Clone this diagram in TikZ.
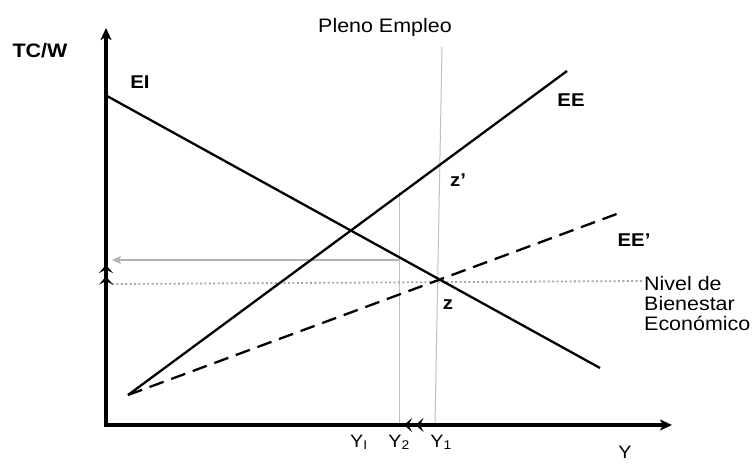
\documentclass[tikz,border=0pt]{standalone}
\usepackage{fontspec}
\setmainfont[FakeStretch=1.1]{Liberation Sans}
\usetikzlibrary{arrows.meta}
\begin{document}
\begin{tikzpicture}[x=1pt,y=-1pt,
  axis/.style={line width=3.6pt,-{Stealth[length=12pt,width=11pt,inset=3pt]}},
  curve/.style={line width=2.3pt,black},
  guide/.style={line width=1pt,black!25},
  chev/.style={line width=1.4pt,-{Stealth[length=8pt,width=14pt,inset=3.5pt,sep=3.5pt]Stealth[length=8pt,width=14pt,inset=3.5pt]}},
  big/.style={font=\fontsize{19.5}{20}\selectfont,inner sep=0pt},
  blab/.style={font=\fontsize{18.5}{19}\selectfont\bfseries,inner sep=0pt},
  ylab/.style={font=\fontsize{18}{19}\selectfont,inner sep=0pt,anchor=base}]
\useasboundingbox (0,0) rectangle (752,463);
% coordinates
\coordinate (ybot) at (106,427);
\coordinate (ytop) at (106,28);
\coordinate (xbeg) at (104,425);
\coordinate (xend) at (672,425);
\coordinate (EIa) at (107,96);
\coordinate (EIb) at (600,368);
\coordinate (S) at (128,395);
\coordinate (EEb) at (567,71);
\coordinate (EEpb) at (622,212);
\coordinate (PEt) at (442,47);
\coordinate (PEb) at (435,425);
\coordinate (Y2t) at (399,192);
\coordinate (Y2b) at (399,425);
\coordinate (Ga) at (399,260);
\coordinate (Gb) at (112,260);
\coordinate (Da) at (112,284);
\coordinate (Db) at (643,281);
\coordinate (ca) at (106,290);
\coordinate (cb) at (106,265);
\coordinate (cc) at (440,425);
\coordinate (cd) at (404,425);
% guides
\draw[guide] (PEt) -- (PEb);
\draw[guide] (Y2t) -- (Y2b);
\draw[line width=1.8pt,black!30,-{Stealth[length=9pt,width=8pt,inset=2pt]}] (Ga) -- (Gb);
\draw[line width=1.8pt,black!35,dash pattern=on 2pt off 2.4pt] (Da) -- (Db);
% curves
\draw[curve] (EIa) -- (EIb);
\draw[curve] (S) -- (EEb);
\draw[curve,dash pattern=on 15pt off 8pt] (S) -- (EEpb);
% axes
\draw[axis] (ybot) -- (ytop);
\draw[axis] (xbeg) -- (xend);
\draw[chev] (ca) -- (cb);
\draw[chev] (cc) -- (cd);
% labels
\node[big,font=\fontsize{19.5}{20}\selectfont\bfseries,anchor=base] (tcw) at (40,57) {TC/W};
\node[big,anchor=base west] (pe) at (318,32) {Pleno Empleo};
\node[blab,anchor=base] (ei) at (140,88) {EI};
\node[blab,anchor=base] (ee) at (571,106) {EE};
\node[blab,anchor=base] (eep) at (634,246) {EE’};
\node[blab,anchor=base] (zp) at (458,186) {z’};
\node[blab,anchor=base] (z) at (448,309) {z};
\node[big,anchor=base west] (n1) at (644,290) {Nivel de};
\node[big,anchor=base west] (n2) at (644,310) {Bienestar};
\node[big,anchor=base west] (n3) at (644,330) {Económico};
\node[ylab] (yi) at (359,447) {Y\textsubscript{I}};
\node[ylab] (y2) at (399,447) {Y\textsubscript{2}};
\node[ylab] (y1) at (441,447) {Y\textsubscript{1}};
\node[ylab] (y) at (625,458) {Y};
\end{tikzpicture}
\end{document}
